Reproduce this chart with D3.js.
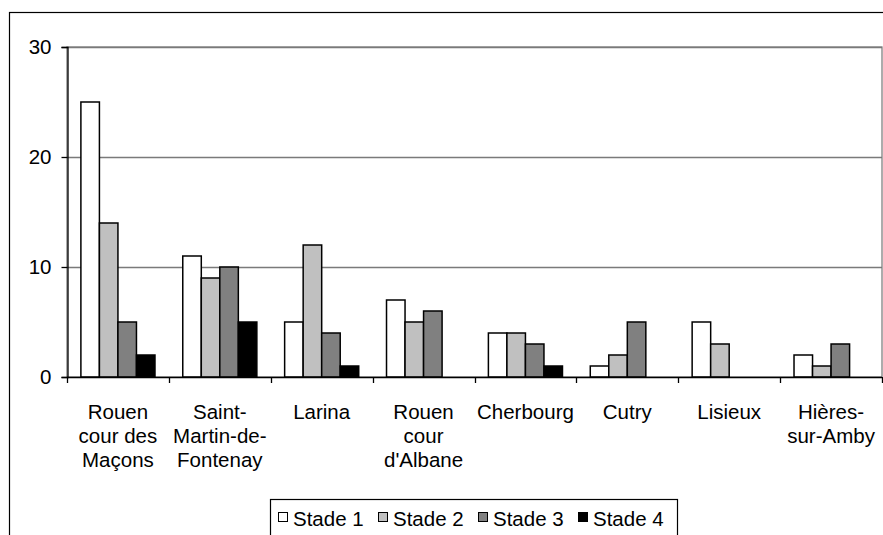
<!DOCTYPE html>
<html>
<head>
<meta charset="utf-8">
<script src="https://cdn.jsdelivr.net/npm/d3@7"></script>
<style>
  body { margin: 0; background: #fff; }
  svg { display: block; font-family: "Liberation Sans", Arial, sans-serif; }
</style>
</head>
<body>
<svg id="chart" width="883" height="535"></svg>
<script>
// sites (tick labels, already broken into lines as in the original)
const sites = [
  ["Rouen", "cour des", "Maçons"],
  ["Saint-", "Martin-de-", "Fontenay"],
  ["Larina"],
  ["Rouen", "cour", "d'Albane"],
  ["Cherbourg"],
  ["Cutry"],
  ["Lisieux"],
  ["Hières-", "sur-Amby"]
];
const stades = ["Stade 1", "Stade 2", "Stade 3", "Stade 4"];
const stadeColors = ["#ffffff", "#c0c0c0", "#808080", "#000000"];

// counts per site, one array per stade
const stade1 = [25, 11, 5, 7, 4, 1, 5, 2];
const stade2 = [14, 9, 12, 5, 4, 2, 3, 1];
const stade3 = [5, 10, 4, 6, 3, 5, 0, 3];
const stade4 = [2, 5, 1, 0, 1, 0, 0, 0];
const yTicks = [0, 10, 20, 30];

const series = [stade1, stade2, stade3, stade4];

const svg = d3.select("#chart");
const plotLeft = 67, plotRight = 882, plotTop = 47, plotBottom = 377;

// outer chart frame (runs off the picture at right and bottom)
svg.append("rect")
  .attr("x", 9.5).attr("y", 12.5)
  .attr("width", 900).attr("height", 560)
  .attr("fill", "none").attr("stroke", "#000").attr("stroke-width", 1.2);

const x0 = d3.scaleBand()
  .domain(d3.range(sites.length))
  .range([plotLeft, plotRight]);

// Excel gap width 150% -> bar = band / 5.5
const barW = x0.bandwidth() / 5.5;

const y = d3.scaleLinear().domain([0, 30]).range([plotBottom, plotTop]);

// plot area border
svg.append("rect")
  .attr("x", plotLeft).attr("y", plotTop)
  .attr("width", plotRight - plotLeft).attr("height", plotBottom - plotTop)
  .attr("fill", "none").attr("stroke", "#808080").attr("stroke-width", 1.3);

// gridlines
svg.append("g")
  .selectAll("line")
  .data(yTicks.filter(d => d > 0))
  .enter().append("line")
  .attr("x1", plotLeft).attr("x2", plotRight)
  .attr("y1", d => Math.round(y(d)) + 0.5).attr("y2", d => Math.round(y(d)) + 0.5)
  .attr("stroke", "#7a7a7a").attr("stroke-width", 1.5);

// bars
series.forEach((vals, s) => {
  svg.append("g")
    .selectAll("rect")
    .data(vals.map((v, i) => ({ i, v })).filter(d => d.v > 0))
    .enter().append("rect")
    .attr("x", d => x0(d.i) + barW * 0.75 + s * barW)
    .attr("y", d => y(d.v))
    .attr("width", barW)
    .attr("height", d => plotBottom - y(d.v))
    .attr("fill", stadeColors[s])
    .attr("stroke", "#000")
    .attr("stroke-width", 1.5);
});

// y axis
const yAxis = d3.axisLeft(y).tickValues(yTicks).tickSize(6).tickPadding(10);
const gy = svg.append("g").attr("transform", `translate(${plotLeft + 0.5},0)`).call(yAxis);
gy.select(".domain").attr("stroke", "#000").attr("stroke-width", 1.3);
gy.selectAll(".tick line").attr("stroke", "#000").attr("stroke-width", 1.3);
gy.selectAll(".tick text")
  .attr("font-size", 20.5).attr("fill", "#000")
  .attr("font-family", "Liberation Sans, Arial, sans-serif");

// x axis: line + ticks at category boundaries
svg.append("line")
  .attr("x1", plotLeft).attr("x2", plotRight)
  .attr("y1", plotBottom + 0.5).attr("y2", plotBottom + 0.5)
  .attr("stroke", "#000").attr("stroke-width", 1.3);

svg.append("g")
  .selectAll("line")
  .data(d3.range(sites.length + 1))
  .enter().append("line")
  .attr("x1", d => Math.round(plotLeft + d * x0.step()) + 0.5)
  .attr("x2", d => Math.round(plotLeft + d * x0.step()) + 0.5)
  .attr("y1", plotBottom).attr("y2", plotBottom + 6)
  .attr("stroke", "#000").attr("stroke-width", 1.3);

// category labels
const lab = svg.append("g")
  .selectAll("text")
  .data(sites)
  .enter().append("text")
  .attr("font-size", 20.5)
  .attr("text-anchor", "middle")
  .attr("fill", "#000");

lab.each(function(lines, i) {
  const cx = x0(i) + x0.bandwidth() / 2;
  d3.select(this).selectAll("tspan")
    .data(lines)
    .enter().append("tspan")
    .attr("x", cx)
    .attr("y", (d, k) => 419 + k * 24)
    .text(d => d);
});

// legend
const legend = svg.append("g");
legend.append("rect")
  .attr("x", 270.5).attr("y", 499.5)
  .attr("width", 407).attr("height", 50)
  .attr("fill", "#fff").attr("stroke", "#000").attr("stroke-width", 1.2);

const item = legend.selectAll("g.item")
  .data(stades)
  .enter().append("g")
  .attr("transform", (d, i) => `translate(${278 + i * 100},0)`);

item.append("rect")
  .attr("x", 0.5).attr("y", 512.5)
  .attr("width", 9).attr("height", 9)
  .attr("fill", (d, i) => stadeColors[i])
  .attr("stroke", "#000").attr("stroke-width", 1);

item.append("text")
  .attr("x", 15).attr("y", 526)
  .attr("font-size", 20.5)
  .attr("fill", "#000")
  .text(d => d);
</script>
</body>
</html>
